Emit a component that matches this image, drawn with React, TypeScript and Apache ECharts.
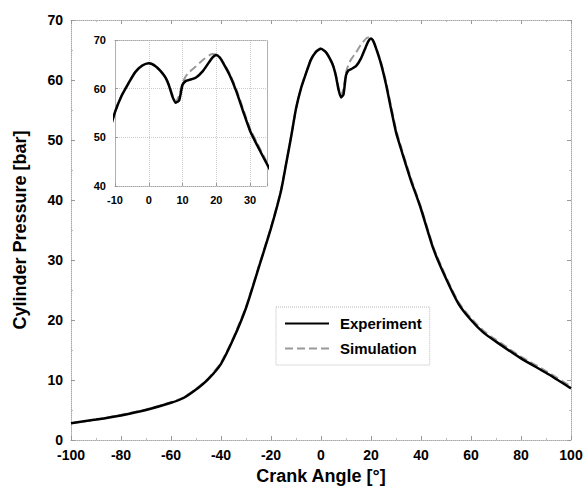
import React, { useEffect, useRef } from "react";
import * as echarts from "echarts";

const angles = [-100, -90, -80, -70, -60, -55, -50, -45, -40, -35, -30, -25, -20, -16, -14, -12, -10, -8, -6, -4, -2, 0, 2, 4, 5, 6, 7, 8, 9, 10, 11, 12, 14, 16, 18, 19, 20, 21, 22, 24, 26, 28, 30, 32, 34, 36, 38, 40, 45, 50, 55, 60, 65, 70, 80, 90, 100];

const experiment = [2.8, 3.4, 4.1, 5.0, 6.2, 7.0, 8.4, 10.2, 12.7, 16.9, 22.0, 28.6, 35.3, 41.5, 45.9, 50.4, 55.2, 58.6, 61.1, 63.4, 64.7, 65.2, 64.6, 63.2, 62.2, 60.6, 58.4, 57.1, 57.6, 60.8, 61.6, 61.8, 62.3, 63.6, 65.6, 66.5, 66.9, 66.4, 65.3, 62.7, 59.3, 55.2, 51.3, 48.5, 45.8, 43.2, 40.9, 38.5, 31.8, 26.9, 22.7, 20.0, 17.9, 16.4, 13.6, 11.2, 8.6];

const simulation = [2.8, 3.4, 4.2, 5.1, 6.3, 7.1, 8.5, 10.3, 12.9, 17.1, 22.2, 28.8, 35.5, 41.7, 46.0, 50.5, 55.3, 58.7, 61.2, 63.5, 64.8, 65.3, 64.7, 63.3, 62.3, 60.8, 58.8, 57.4, 58.6, 61.2, 62.6, 63.4, 64.6, 65.9, 66.9, 67.1, 67.0, 66.5, 65.5, 63.0, 59.7, 55.7, 51.8, 48.9, 46.2, 43.6, 41.2, 38.8, 32.1, 27.2, 23.0, 20.3, 18.2, 16.7, 13.9, 11.5, 8.9];

const mainXTicks = { min: -100, max: 100, interval: 20 };
const mainYTicks = { min: 0, max: 70, interval: 10 };
const insetXTicks = { min: -10, max: 35, interval: 10 };
const insetYTicks = { min: 40, max: 70, interval: 10 };

const FONT = '"Liberation Sans", Arial, sans-serif';

export default function App() {
  const ref = useRef<HTMLDivElement>(null);

  useEffect(() => {
    if (!ref.current) return;
    const chart = echarts.init(ref.current, null, { renderer: "svg" });

    const expData = angles.map((a, i) => [a, experiment[i]]);
    const simData = angles.map((a, i) => [a, simulation[i]]);

    const frameLine = { show: true, onZero: false, lineStyle: { color: "#aaa", type: "dotted", width: 1 } };
    const tick = { show: true, inside: true, length: 4, lineStyle: { color: "#999" } };
    const minor = { show: true, splitNumber: 2, length: 2, lineStyle: { color: "#bbb" } };
    const labelMain = { color: "#000", fontFamily: FONT, fontWeight: "bold", fontSize: 14 };
    const labelInset = { color: "#000", fontFamily: FONT, fontWeight: "bold", fontSize: 11 };
    const tenOnly = (v: number) => (v % 10 === 0 ? String(v) : "");

    const option: any = {
      animation: false,
      backgroundColor: "#fff",
      textStyle: { fontFamily: FONT },
      grid: [
        { left: 71, top: 20, width: 500, height: 420 },
        { left: 115, top: 40, width: 152, height: 146 },
      ],
      legend: {
        data: ["Experiment", "Simulation"],
        orient: "vertical",
        left: 276,
        top: 307,
        itemWidth: 44,
        itemHeight: 14,
        itemGap: 10,
        padding: [9, 8, 9, 8],
        borderColor: "#bbb",
        borderWidth: 1,
        borderType: "dotted",
        backgroundColor: "#fff",
        itemStyle: { opacity: 0 },
        textStyle: { color: "#000", fontFamily: FONT, fontWeight: "bold", fontSize: 15, padding: [0, 0, 0, 6] },
      },
      xAxis: [
        {
          gridIndex: 0, type: "value", position: "bottom", ...mainXTicks,
          axisLine: frameLine, axisTick: tick, minorTick: minor,
          axisLabel: { ...labelMain, margin: 8 },
          splitLine: { show: false },
          name: "Crank Angle [°]", nameLocation: "middle", nameGap: 22,
          nameTextStyle: { color: "#000", fontFamily: FONT, fontWeight: "bold", fontSize: 18 },
        },
        {
          gridIndex: 0, type: "value", position: "top", ...mainXTicks,
          axisLine: frameLine, axisTick: tick, minorTick: minor,
          axisLabel: { show: false }, splitLine: { show: false },
        },
        {
          gridIndex: 1, type: "value", position: "bottom", ...insetXTicks,
          axisLine: frameLine, axisTick: { ...tick, length: 3 },
          axisLabel: { ...labelInset, margin: 8, formatter: tenOnly },
          splitLine: { show: true, lineStyle: { color: "#ccc", type: "dotted" } },
        },
        {
          gridIndex: 1, type: "value", position: "top", ...insetXTicks,
          axisLine: frameLine, axisTick: { show: false },
          axisLabel: { show: false }, splitLine: { show: false },
        },
      ],
      yAxis: [
        {
          gridIndex: 0, type: "value", position: "left", ...mainYTicks,
          axisLine: frameLine, axisTick: tick, minorTick: minor,
          axisLabel: { ...labelMain, margin: 8 },
          splitLine: { show: false },
          name: "Cylinder Pressure [bar]", nameLocation: "middle", nameGap: 42,
          nameTextStyle: { color: "#000", fontFamily: FONT, fontWeight: "bold", fontSize: 18 },
        },
        {
          gridIndex: 0, type: "value", position: "right", ...mainYTicks,
          axisLine: frameLine, axisTick: tick, minorTick: minor,
          axisLabel: { show: false }, splitLine: { show: false },
        },
        {
          gridIndex: 1, type: "value", position: "left", ...insetYTicks,
          axisLine: frameLine, axisTick: { ...tick, length: 3 },
          axisLabel: { ...labelInset, margin: 9, formatter: tenOnly },
          splitLine: { show: true, lineStyle: { color: "#ccc", type: "dotted" } },
        },
        {
          gridIndex: 1, type: "value", position: "right", ...insetYTicks,
          axisLine: frameLine, axisTick: { show: false },
          axisLabel: { show: false }, splitLine: { show: false },
        },
      ],
      series: [
        {
          name: "Experiment", type: "line", xAxisIndex: 0, yAxisIndex: 0,
          data: expData, symbol: "none", smooth: 0.2, z: 4,
          lineStyle: { color: "#000", width: 2.5 }, itemStyle: { color: "#000" },
        },
        {
          name: "Simulation", type: "line", xAxisIndex: 0, yAxisIndex: 0,
          data: simData, symbol: "none", smooth: 0.2, z: 3,
          lineStyle: { color: "#999", width: 2, type: "dashed" }, itemStyle: { color: "#999" },
        },
        {
          name: "Experiment", type: "line", xAxisIndex: 2, yAxisIndex: 2,
          data: expData, symbol: "none", smooth: 0.2, z: 4,
          lineStyle: { color: "#000", width: 2.5 }, itemStyle: { color: "#000" },
        },
        {
          name: "Simulation", type: "line", xAxisIndex: 2, yAxisIndex: 2,
          data: simData, symbol: "none", smooth: 0.2, z: 3,
          lineStyle: { color: "#999", width: 2, type: "dashed" }, itemStyle: { color: "#999" },
        },
      ],
    };

    chart.setOption(option);
    return () => chart.dispose();
  }, []);

  return (
    <div
      ref={ref}
      style={{ position: "fixed", left: 0, top: 0, width: 586, height: 491, background: "#fff" }}
    />
  );
}
